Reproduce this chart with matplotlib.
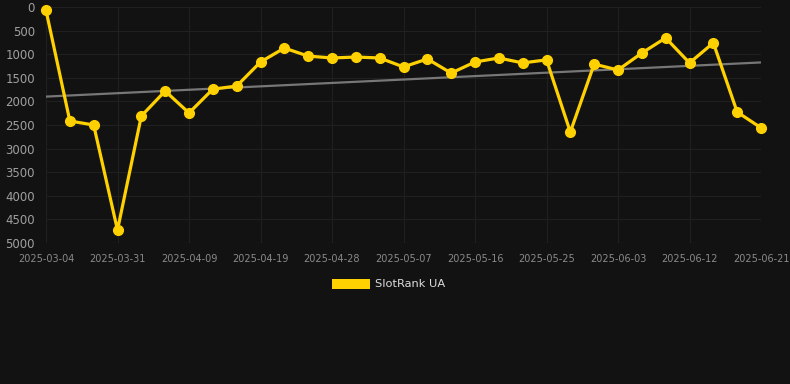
import numpy as np
import matplotlib
matplotlib.use("Agg")
import matplotlib.pyplot as plt
from matplotlib.patches import Patch

# rank values, one per day shown (lower = better, axis inverted)
rank = [70, 2415, 2500, 4725, 2310, 1780, 2245, 1740, 1675, 1165,
        870, 1040, 1080, 1060, 1080, 1270, 1100, 1400, 1165, 1080,
        1185, 1120, 2650, 1210, 1335, 975, 655, 1185, 760, 2225, 2560]
tick_labels = ["2025-03-04", "2025-03-31", "2025-04-09", "2025-04-19",
               "2025-04-28", "2025-05-07", "2025-05-16", "2025-05-25",
               "2025-06-03", "2025-06-12", "2025-06-21"]
series_name = "SlotRank UA"

bg = "#121212"
yellow = "#FFD100"

x = np.arange(len(rank))
fit = np.polyfit(x, rank, 1)

fig = plt.figure(figsize=(7.9, 3.84), dpi=100, facecolor=bg)
ax = fig.add_axes([46/790, 1-243/384, (761-46)/790, (243-7)/384])
ax.set_facecolor(bg)

ax.plot(x, np.polyval(fit, x), color="#777777", lw=1.6, zorder=2)
ax.plot(x, rank, color=yellow, lw=2.3, marker="o", ms=7, zorder=3, clip_on=False)

ax.set_xlim(0, len(rank) - 1)
ax.set_ylim(5000, 0)
ax.set_yticks(range(0, 5001, 500))
ax.set_xticks(x[::3])
ax.set_xticklabels(tick_labels)

ax.grid(True, color="#202020", lw=0.8)
for s in ax.spines.values():
    s.set_visible(False)
ax.axhline(5000, color="#333333", lw=0.8)
ax.tick_params(axis="y", colors="#a0a0a0", labelsize=8.5, length=0, pad=8)
ax.tick_params(axis="x", colors="#8a8a8a", labelsize=7, length=0, pad=8)

fig.legend(handles=[Patch(facecolor=yellow, label=series_name)],
           loc="center", bbox_to_anchor=(0.492, 1-284/384), frameon=False,
           labelcolor="#dddddd", fontsize=8.2, handlelength=3.3, handleheight=1.0,
           handletextpad=0.5)

fig.savefig("out.png", dpi=100, facecolor=bg)
